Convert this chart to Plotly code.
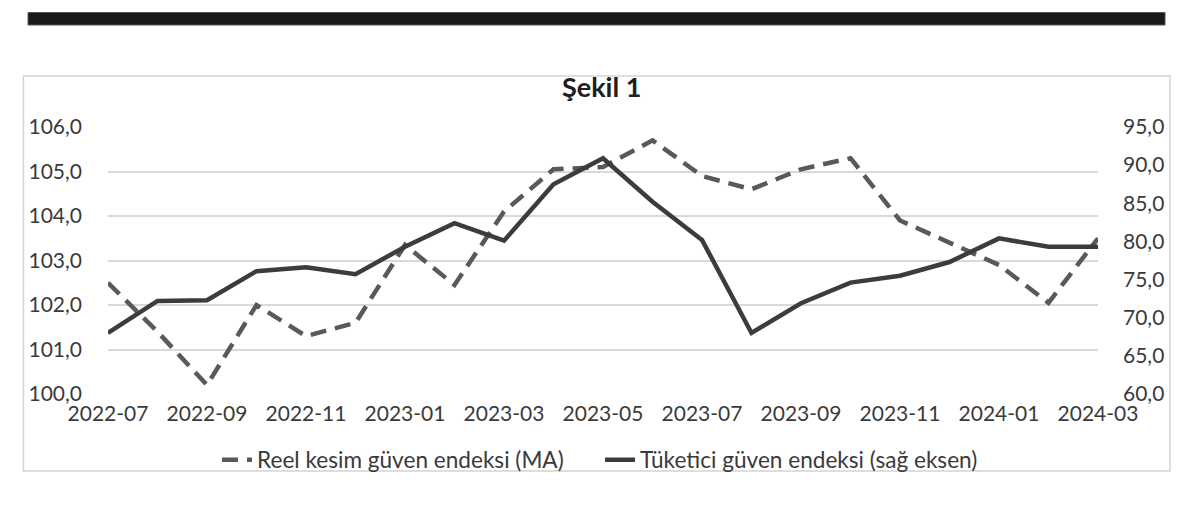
import plotly.graph_objects as go

months = ["2022-07", "2022-08", "2022-09", "2022-10", "2022-11", "2022-12",
          "2023-01", "2023-02", "2023-03", "2023-04", "2023-05", "2023-06",
          "2023-07", "2023-08", "2023-09", "2023-10", "2023-11", "2023-12",
          "2024-01", "2024-02", "2024-03"]

reel_kesim = [102.5, 101.4, 100.2, 102.0, 101.3, 101.6,
              103.35, 102.45, 104.1, 105.05, 105.1, 105.7,
              104.9, 104.6, 105.05, 105.3, 103.9, 103.4,
              102.9, 102.05, 103.5]

tuketici = [68.0, 72.2, 72.3, 76.1, 76.6, 75.7,
            79.3, 82.4, 80.1, 87.5, 90.9, 85.2,
            80.2, 68.0, 71.9, 74.6, 75.5, 77.3,
            80.4, 79.3, 79.3]

tick_months = months[::2]

FONT = "Lato"
TXT = "#3a3a3a"

fig = go.Figure()
fig.add_trace(go.Scatter(
    x=months, y=reel_kesim, name="Reel kesim güven endeksi (MA)",
    mode="lines", line=dict(color="#595959", width=4.5, dash="16px,9px"),
    yaxis="y"))
fig.add_trace(go.Scatter(
    x=months, y=tuketici, name="Tüketici güven endeksi (sağ eksen)",
    mode="lines", line=dict(color="#3c3c3c", width=4.5),
    yaxis="y2"))

fig.update_layout(
    width=1200, height=506,
    margin=dict(l=108, r=102, t=127, b=112),
    paper_bgcolor="white", plot_bgcolor="white",
    separators=",.",
    font=dict(family=FONT, size=21, color=TXT),
    showlegend=True,
    legend=dict(orientation="h", x=0.497, xanchor="center", y=-0.247, yanchor="middle",
                font=dict(family=FONT, size=22.6, color=TXT), bgcolor="rgba(0,0,0,0)",
                itemwidth=30, entrywidth=338, entrywidthmode="pixels"),
    xaxis=dict(type="category", range=[0, 20], tickmode="array", tickvals=tick_months,
               ticktext=tick_months, showgrid=False, zeroline=False, showline=False,
               ticks="", ticklabelstandoff=5, tickfont=dict(size=21, color=TXT)),
    yaxis=dict(range=[100, 106], dtick=1, tickformat=".1f", showgrid=True,
               gridcolor="#d9d9d9", gridwidth=2, zeroline=False, showline=False,
               ticks="", ticklabelstandoff=25, tickfont=dict(size=21, color=TXT)),
    yaxis2=dict(range=[60, 95], dtick=5, tickformat=".1f", overlaying="y", side="right",
                showgrid=False, zeroline=False, showline=False, ticks="",
                ticklabelstandoff=24, tickfont=dict(size=21, color=TXT)),
    shapes=[
        dict(type="rect", xref="paper", yref="paper", x0=-0.0808, x1=1.0677,
             y0=1.382, y1=1.4288, fillcolor="#1a1a1a", line=dict(color="#555555", width=1),
             layer="above"),
        dict(type="rect", xref="paper", yref="paper", x0=-0.0854, x1=1.0727,
             y0=-0.2884, y1=1.191, fillcolor="rgba(0,0,0,0)",
             line=dict(color="#d4d4d4", width=1.5), layer="below"),
    ],
    annotations=[
        dict(text="<b>Şekil 1</b>", xref="paper", yref="paper", x=0.4985, y=1.152,
             xanchor="center", yanchor="middle", showarrow=False,
             font=dict(family=FONT, size=27, color="#1f1f1f")),
    ],
)

fig.write_html("out.html")
